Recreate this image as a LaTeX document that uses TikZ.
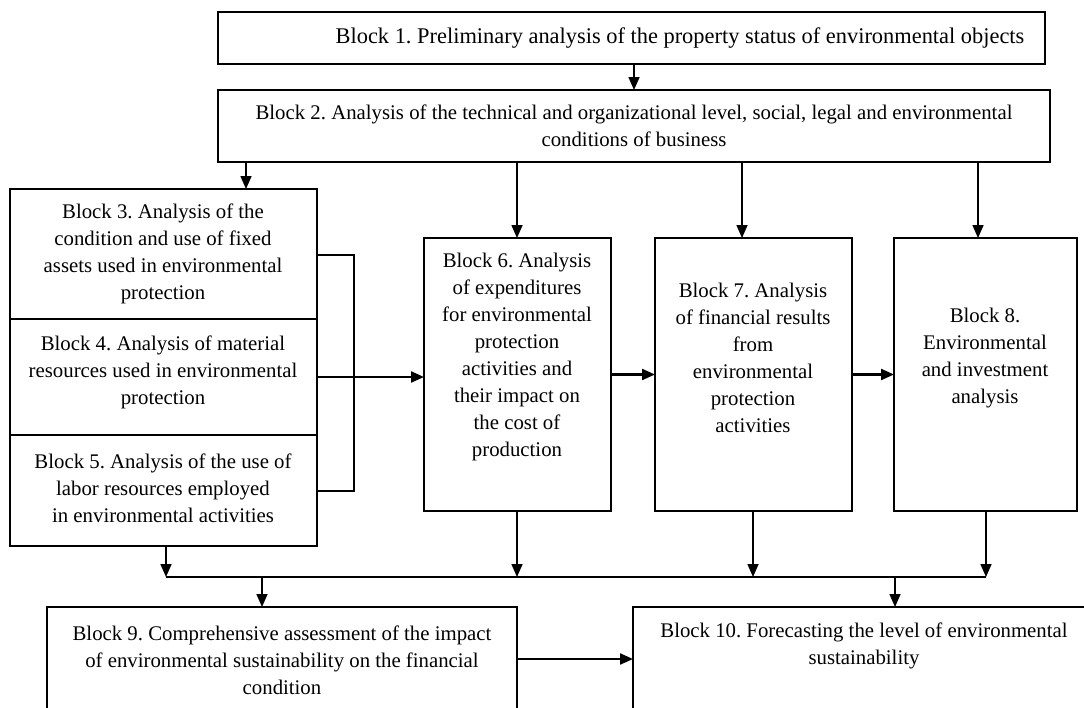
\documentclass[tikz,border=0pt]{standalone}
\usepackage{fontspec}
\setmainfont{Liberation Serif}
\usetikzlibrary{arrows.meta}
\frenchspacing
\begin{document}
\begin{tikzpicture}[x=1pt,y=-1pt,
 box/.style={draw,line width=1.2pt,inner sep=0pt,outer sep=0pt,anchor=north west},
 txt/.style={align=center,font=\fontsize{20.8}{27}\selectfont,inner sep=0pt},
 arr/.style={line width=1.6pt,-{Triangle[length=13pt,width=11pt]}},
 harr/.style={arr,line width=2.2pt},
 ln/.style={line width=1.6pt},
 thin/.style={line width=1.2pt}]
\useasboundingbox (0,0) rectangle (1084,707);
\clip (0,0) rectangle (1084,707);
\fill[white] (0,0) rectangle (1084,707);
% boxes
\node[box,minimum width=827pt,minimum height=52pt] (b1) at (218,12) {};
\node[box,minimum width=832pt,minimum height=72pt] (b2) at (218,90) {};
\node[box,minimum width=307pt,minimum height=130pt] (b3) at (10,189) {};
\node[box,minimum width=307pt,minimum height=116pt] (b4) at (10,319) {};
\node[box,minimum width=307pt,minimum height=111pt] (b5) at (10,435) {};
\node[box,minimum width=187pt,minimum height=273pt] (b6) at (424,238) {};
\node[box,minimum width=197pt,minimum height=273pt] (b7) at (655,238) {};
\node[box,minimum width=183pt,minimum height=273pt] (b8) at (894,238) {};
\node[box,minimum width=470pt,minimum height=120pt] (b9) at (47,607) {};
\node[box,minimum width=470pt,minimum height=120pt] (b10) at (633,607) {};
% texts
\node[txt,font=\fontsize{22.4}{28}\selectfont] (t1) at (680,38) {Block 1. Preliminary analysis of the property status of environmental objects};
\node[txt] (t2) at (634,126) {Block 2. Analysis of the technical and organizational level, social, legal and environmental\\conditions of business};
\node[txt] (t3) at (163,254) {Block 3. Analysis of the\\condition and use of fixed\\assets used in environmental\\protection};
\node[txt] (t4) at (163,372) {Block 4. Analysis of material\\resources used in environmental\\protection};
\node[txt] (t5) at (163,488) {Block 5. Analysis of the use of\\labor resources employed\\in environmental activities};
\node[txt] (t6) at (517,357) {Block 6. Analysis\\of expenditures\\for environmental\\protection\\activities and\\their impact on\\the cost of\\production};
\node[txt] (t7) at (753,358) {Block 7. Analysis\\of financial results\\from\\environmental\\protection\\activities};
\node[txt] (t8) at (985,358) {Block 8.\\Environmental\\and investment\\analysis};
\node[txt] (t9) at (282,660) {Block 9. Comprehensive assessment of the impact\\of environmental sustainability on the financial\\condition};
\node[txt] (t10) at (864,646) {Block 10. Forecasting the level of environmental\\sustainability};
% helper coordinates
\coordinate (xa) at (246,0);
\coordinate (x6) at (517,0);
\coordinate (x7i) at (742,0);
\coordinate (x8i) at (978,0);
\coordinate (x5o) at (166,0);
\coordinate (x7o) at (753,0);
\coordinate (x8o) at (986,0);
\coordinate (x9) at (262,0);
\coordinate (x10) at (895,0);
\coordinate (ybt) at (0,255);
\coordinate (ybb) at (0,491);
\coordinate (y9) at (0,659);
\coordinate (bus) at (0,577);
% connectors
\draw[arr] (b1.south -| b2.north) -- (b2.north);
\draw[arr] (b2.south -| xa) -- (b3.north -| xa);
\draw[arr] (b2.south -| x6) -- (b6.north -| x6);
\draw[arr] (b2.south -| x7i) -- (b7.north -| x7i);
\draw[arr] (b2.south -| x8i) -- (b8.north -| x8i);
\draw[thin] (b3.east |- ybt) -- ++(37,0) |- (b5.east |- ybb);
\draw[harr] (b4.east) -- (b6.west |- b4.east);
\draw[harr] (b6.east) -- (b7.west);
\draw[harr] (b7.east) -- (b8.west);
\draw[arr] (b5.south -| x5o) -- (bus -| x5o);
\draw[arr] (b6.south -| x6) -- (bus -| x6);
\draw[arr] (b7.south -| x7o) -- (bus -| x7o);
\draw[arr] (b8.south -| x8o) -- (bus -| x8o);
\draw[ln] (bus -| x5o) -- (bus -| x8o);
\draw[arr] (bus -| x9) -- (b9.north -| x9);
\draw[arr] (bus -| x10) -- (b10.north -| x10);
\draw[harr] (b9.east |- y9) -- (b10.west |- y9);
\end{tikzpicture}
\end{document}
